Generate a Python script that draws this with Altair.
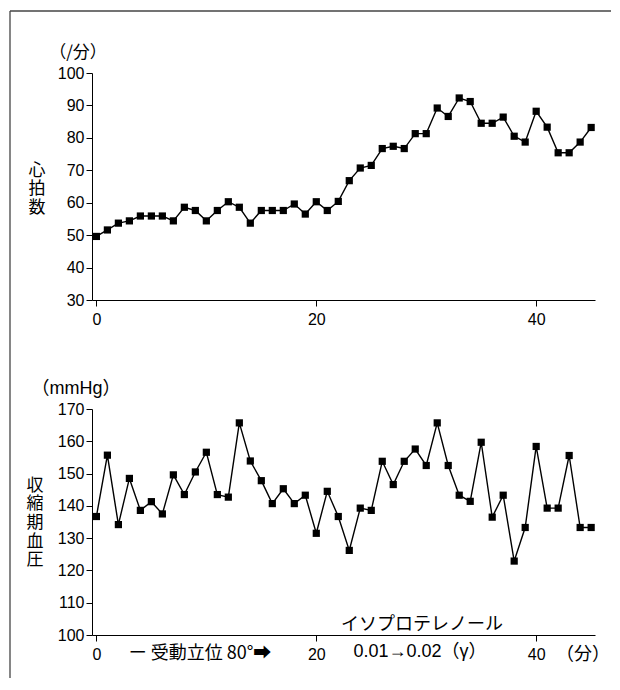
import altair as alt
import pandas as pd

minutes = list(range(46))
heart_rate = [49.6, 51.6, 53.7, 54.4, 55.9, 55.9, 55.9, 54.4, 58.6, 57.6, 54.4,
              57.6, 60.3, 58.6, 53.7, 57.6, 57.6, 57.6, 59.6, 56.5, 60.3,
              57.6, 60.4, 66.8, 70.7, 71.5, 76.7, 77.4, 76.7, 81.3, 81.3,
              89.2, 86.6, 92.3, 91.2, 84.5, 84.5, 86.4, 80.5, 78.7, 88.2,
              83.3, 75.4, 75.4, 78.7, 83.2]
systolic = [136.7, 155.7, 134.2, 148.5, 138.6, 141.3, 137.5, 149.6, 143.5, 150.5, 156.6,
            143.5, 142.7, 165.7, 153.9, 147.8, 140.7, 145.3, 140.7, 143.3, 131.5,
            144.5, 136.7, 126.2, 139.3, 138.6, 153.8, 146.6, 153.8, 157.6, 152.5,
            165.7, 152.5, 143.3, 141.4, 159.7, 136.5, 143.3, 122.9, 133.3, 158.4,
            139.3, 139.3, 155.6, 133.3, 133.3]
x_ticks = [0, 20, 40]
hr_ticks = [30, 40, 50, 60, 70, 80, 90, 100]
bp_ticks = [100, 110, 120, 130, 140, 150, 160, 170]
hr_title = ["心", "拍", "数"]
bp_title = ["収", "縮", "期", "血", "圧"]

W, H = 503, 227
NUM_FONT = "Liberation Sans, Noto Sans CJK JP"
JP_FONT = "Noto Sans CJK JP"

df = pd.DataFrame({"minute": minutes, "hr": heart_rate, "bp": systolic})
one = pd.DataFrame({"a": [0]})

xscale = alt.Scale(domain=[-0.4, 45.35], nice=False, zero=False)
xaxis = alt.Axis(values=x_ticks, title=None, format="d")


def series(field, domain, ticks):
    base = alt.Chart(df)
    enc = dict(
        x=alt.X("minute:Q", scale=xscale, axis=xaxis),
        y=alt.Y(f"{field}:Q", scale=alt.Scale(domain=domain, nice=False, zero=False),
                axis=alt.Axis(values=ticks, title=None, format="d")),
    )
    line = base.mark_line(color="black", strokeWidth=1.4).encode(**enc)
    pts = base.mark_square(size=52, color="black", opacity=1).encode(**enc)
    return line + pts


def txt(text, x, y, font=JP_FONT, size=18):
    return alt.Chart(one).mark_text(
        font=font, fontSize=size, color="black", align="center", baseline="middle"
    ).encode(x=alt.value(x), y=alt.value(y), text=alt.value(text))


def stacked(chars, x, y_center, step, size=17):
    n = len(chars)
    y0 = y_center - step * (n - 1) / 2
    return [txt(c, x, y0 + i * step, size=size) for i, c in enumerate(chars)]


frame_v = alt.Chart(one).mark_rule(color="#444", strokeWidth=1.3).encode(
    x=alt.value(-82), y=alt.value(-62), y2=alt.value(605))
frame_h = alt.Chart(one).mark_rule(color="#444", strokeWidth=1.3).encode(
    x=alt.value(-82), x2=alt.value(519), y=alt.value(-62))

top = alt.layer(
    frame_v, frame_h,
    series("hr", [30, 100], hr_ticks),
    txt("（/分）", -14, -20, size=17),
    *stacked(hr_title, -55, 116, 18.5),
).properties(width=W, height=H)

bottom = alt.layer(
    series("bp", [100, 170], bp_ticks),
    txt("（mmHg）", -16, -20, font=NUM_FONT, size=18),
    *stacked(bp_title, -57, 114, 18.7),
    txt("イソプロテレノール", 330, 216),
    txt("ー 受動立位 80°➡", 108, 245),
    txt("0.01→0.02（γ）", 328, 243, font=NUM_FONT, size=18),
    txt("（分）", 491, 246),
).properties(width=W, height=226)

chart = alt.vconcat(top, bottom, spacing=109, bounds="flush").properties(
    padding={"left": 1, "top": 2, "right": 0, "bottom": 0}
).configure_view(stroke=None).configure_axis(
    grid=False,
    labelFont=NUM_FONT, labelFontSize=16, labelColor="black",
    domainColor="black", tickColor="black", tickSize=6, labelPadding=2,
    domainWidth=1, tickWidth=1,
).configure_axisX(labelPadding=5)

chart.save("out.html", embed_options={"renderer": "svg", "actions": False})
